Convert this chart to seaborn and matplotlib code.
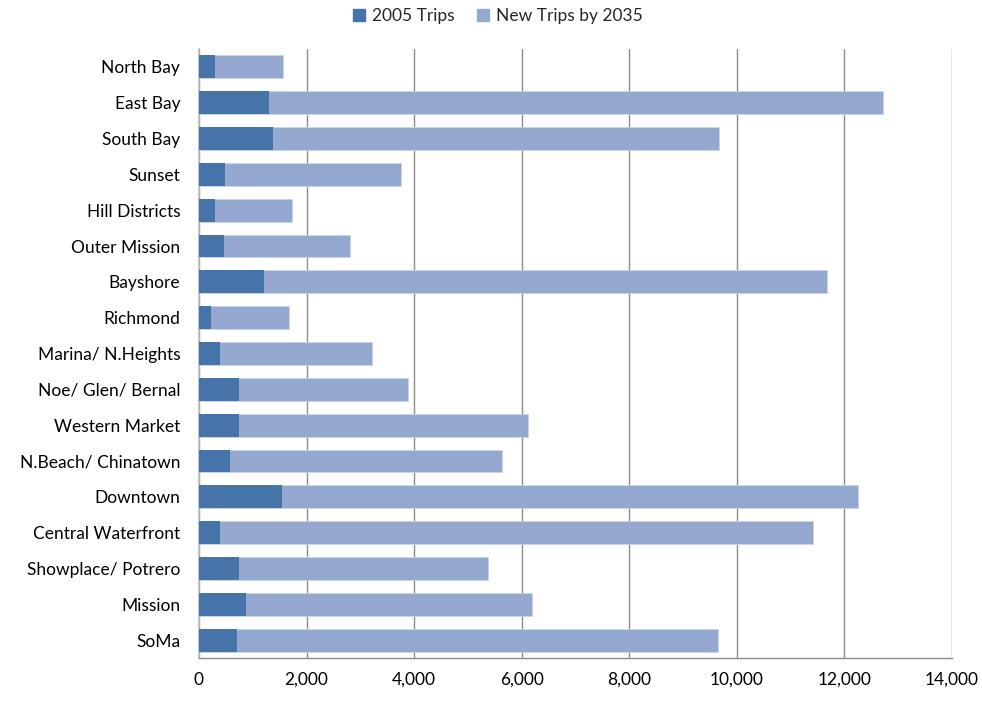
import matplotlib
matplotlib.use("Agg")
import matplotlib.pyplot as plt
import seaborn as sns
import pandas as pd
import numpy as np
from matplotlib.ticker import FuncFormatter, MultipleLocator
from matplotlib.patches import Patch

categories = ["North Bay", "East Bay", "South Bay", "Sunset", "Hill Districts",
              "Outer Mission", "Bayshore", "Richmond", "Marina/ N.Heights",
              "Noe/ Glen/ Bernal", "Western Market", "N.Beach/ Chinatown",
              "Downtown", "Central Waterfront", "Showplace/ Potrero", "Mission", "SoMa"]
trips_2005 = [300, 1310, 1380, 485, 305, 460, 1215, 215, 395,
              750, 735, 585, 1550, 395, 735, 875, 715]
new_trips_2035 = [1255, 11400, 8290, 3270, 1415, 2345, 10465, 1465, 2820,
                  3130, 5380, 5040, 10705, 11015, 4640, 5320, 8935]
series_names = ["2005 Trips", "New Trips by 2035"]

dark = "#4674A9"
light = "#95A9D0"

df = pd.DataFrame({"cat": categories, "t2005": trips_2005, "new": new_trips_2035})
df["total"] = df["t2005"] + df["new"]

sns.set_style("white")
plt.rcParams['font.family'] = ['Lato', 'DejaVu Sans']

fig = plt.figure(figsize=(9.82, 7.05), dpi=100)
ax = fig.add_axes([199/982, 1 - 658/705, (952 - 199)/982, (658 - 49)/705])

sns.barplot(data=df, y="cat", x="total", color=light, orient="h", width=0.64,
            ax=ax, saturation=1, edgecolor="#C9D3E8", linewidth=0.6, zorder=2)
sns.barplot(data=df, y="cat", x="t2005", color=dark, orient="h", width=0.64,
            ax=ax, saturation=1, linewidth=0, zorder=3)

ax.set_xlim(0, 14000)
ax.set_ylim(len(categories) - 0.5, -0.5)
ax.xaxis.set_major_locator(MultipleLocator(2000))
ax.xaxis.set_major_formatter(FuncFormatter(lambda v, p: f"{int(v):,}"))
ax.grid(axis="x", color="#8C8C8C", linewidth=1.0, zorder=0)
ax.set_axisbelow(True)
ax.set_xlabel("")
ax.set_ylabel("")
for s in ["top", "right"]:
    ax.spines[s].set_visible(False)
ax.spines["left"].set_color("#BBBBBB")
ax.spines["left"].set_linewidth(1.2)
ax.spines["bottom"].set_color("#8C8C8C")
ax.spines["bottom"].set_linewidth(1.0)
ax.tick_params(axis="both", length=0, labelsize=12.5, colors="black")
ax.tick_params(axis="x", pad=10)
ax.tick_params(axis="y", pad=13.5)

handles = [Patch(facecolor=dark, edgecolor=dark), Patch(facecolor=light, edgecolor=light)]
fig.legend(handles, series_names, loc="center", bbox_to_anchor=(498/982, 1 - 16/705),
           ncol=2, frameon=False, fontsize=12.5, handlelength=0.7, handleheight=0.7,
           handletextpad=0.4, columnspacing=1.3)

fig.savefig("out.png", dpi=100)
